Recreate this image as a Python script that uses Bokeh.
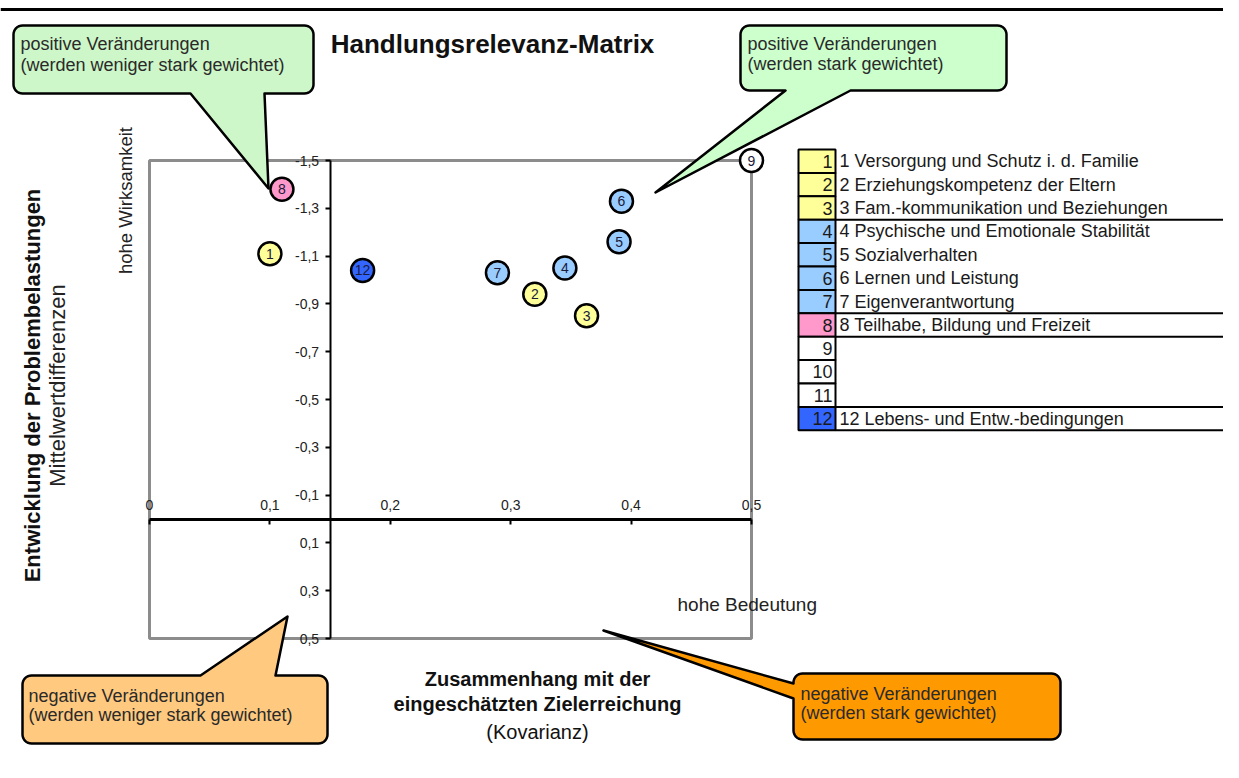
import math
from bokeh.plotting import figure
from bokeh.models import Range1d, LinearAxis, FixedTicker, Label, ColumnDataSource
from bokeh.core.properties import value
from bokeh.embed import file_html
from bokeh.resources import INLINE

# ---------------- data ----------------
point_ids = ["1", "2", "3", "4", "5", "6", "7", "8", "9", "12"]
kovarianz = [0.100, 0.320, 0.363, 0.345, 0.390, 0.392, 0.289, 0.110, 0.500, 0.177]
mittelwert_diff = [-1.11, -0.94, -0.85, -1.05, -1.16, -1.33, -1.03, -1.38, -1.50, -1.04]
point_colors = ["#FFFF99", "#FFFF99", "#FFFF99", "#99CCFF", "#99CCFF", "#99CCFF",
                "#99CCFF", "#FF99CC", "#FFFFFF", "#3366FF"]

legend_numbers = ["1", "2", "3", "4", "5", "6", "7", "8", "9", "10", "11", "12"]
legend_labels = [
    "1 Versorgung und Schutz i. d. Familie",
    "2 Erziehungskompetenz der Eltern",
    "3 Fam.-kommunikation und Beziehungen",
    "4 Psychische und Emotionale Stabilität",
    "5 Sozialverhalten",
    "6 Lernen und Leistung",
    "7 Eigenverantwortung",
    "8 Teilhabe, Bildung und Freizeit",
    "",
    "",
    "",
    "12 Lebens- und Entw.-bedingungen",
]
legend_colors = ["#FFFF99", "#FFFF99", "#FFFF99", "#99CCFF", "#99CCFF", "#99CCFF",
                 "#99CCFF", "#FF99CC", "#FFFFFF", "#FFFFFF", "#FFFFFF", "#3366FF"]
legend_group_ends = [3, 7, 8, 11, 12]

x_ticks = [0.0, 0.1, 0.2, 0.3, 0.4, 0.5]
x_tick_labels = ["0", "0,1", "0,2", "0,3", "0,4", "0,5"]
y_ticks = [-1.5, -1.3, -1.1, -0.9, -0.7, -0.5, -0.3, -0.1, 0.1, 0.3, 0.5]
y_tick_labels = ["-1,5", "-1,3", "-1,1", "-0,9", "-0,7", "-0,5", "-0,3", "-0,1",
                 "0,1", "0,3", "0,5"]
x_bounds = (0.0, 0.5)
y_bounds = (-1.5, 0.5)
y_axis_crossing = 0.15

title_text = "Handlungsrelevanz-Matrix"

# ---------------- layout helpers (picture pixels -> data) ----------------
PX0, PPX = 149.0, 1204.0
PY0, PPY = 518.5, 239.0


def X(px):
    return (px - PX0) / PPX


def Y(py):
    return (py - PY0) / PPY


FONT = "Liberation Sans"
W, H = 1223, 762

p = figure(width=W, height=H,
           x_range=Range1d(X(0), X(W)), y_range=Range1d(Y(H), Y(0)),
           x_axis_type=None, y_axis_type=None,
           toolbar_location=None, output_backend="svg",
           min_border=0, outline_line_color=None)
p.title.visible = False
p.background_fill_color = "white"
p.border_fill_color = "white"

# header line
p.line([X(0), X(W)], [Y(9), Y(9)], line_color="black", line_width=3)

# plot frame
p.quad(left=[x_bounds[0]], right=[x_bounds[1]], top=[y_bounds[0]], bottom=[y_bounds[1]],
       fill_color=None, line_color="#8C8C8C", line_width=3)

# axes crossing inside the frame
xaxis = LinearAxis(fixed_location=0.0, bounds=x_bounds,
                   ticker=FixedTicker(ticks=x_ticks),
                   major_label_overrides=dict(zip(x_ticks, x_tick_labels)))
xaxis.axis_line_width = 3
xaxis.axis_line_color = "black"
xaxis.major_tick_in = 5
xaxis.major_tick_out = 0
xaxis.major_tick_line_width = 2
xaxis.minor_tick_line_color = None
xaxis.major_label_standoff = 9
xaxis.major_label_text_font = FONT
xaxis.major_label_text_font_size = "14px"
xaxis.major_label_text_color = "#222222"
p.add_layout(xaxis, "above")

yaxis = LinearAxis(fixed_location=y_axis_crossing, bounds=y_bounds,
                   ticker=FixedTicker(ticks=y_ticks),
                   major_label_overrides=dict(zip(y_ticks, y_tick_labels)))
yaxis.axis_line_width = 2
yaxis.axis_line_color = "black"
yaxis.major_tick_in = 0
yaxis.major_tick_out = 5
yaxis.major_tick_line_width = 2
yaxis.minor_tick_line_color = None
yaxis.major_label_standoff = 6
yaxis.major_label_text_font = FONT
yaxis.major_label_text_font_size = "14px"
yaxis.major_label_text_color = "#222222"
yaxis.major_label_orientation = "horizontal"
p.add_layout(yaxis, "left")


# ---------------- callouts ----------------
def callout_poly(x0, y0, x1, y1, r, edge, a, b, tip):
    pts = []

    def arc(cx, cy, start, end, n=8):
        for k in range(n + 1):
            t = math.radians(start + (end - start) * k / n)
            pts.append((cx + r * math.cos(t), cy + r * math.sin(t)))

    arc(x0 + r, y0 + r, 180, 270)
    if edge == "top":
        pts.extend([(a, y0), tip, (b, y0)])
    arc(x1 - r, y0 + r, 270, 360)
    if edge == "right":
        pts.extend([(x1, a), tip, (x1, b)])
    arc(x1 - r, y1 - r, 0, 90)
    if edge == "bottom":
        pts.extend([(b, y1), tip, (a, y1)])
    arc(x0 + r, y1 - r, 90, 180)
    if edge == "left":
        pts.extend([(x0, b), tip, (x0, a)])
    return [X(q[0]) for q in pts], [Y(q[1]) for q in pts]


callouts = [
    dict(box=(13, 25, 313, 93), edge="bottom", a=190, b=264, tip=(268, 188),
         fill="#CDF7C8", text_x=20, text_y=(43, 64),
         lines=("positive Veränderungen", "(werden weniger stark gewichtet)")),
    dict(box=(740, 25, 1006, 90), edge="bottom", a=785, b=850, tip=(655, 192),
         fill="#CCFFCC", text_x=747, text_y=(43, 63),
         lines=("positive Veränderungen", "(werden stark gewichtet)")),
    dict(box=(22, 675, 327, 743), edge="top", a=200, b=275, tip=(287, 616),
         fill="#FFC97F", text_x=28, text_y=(695, 714),
         lines=("negative Veränderungen", "(werden weniger stark gewichtet)")),
    dict(box=(793, 673, 1060, 739), edge="left", a=683, b=698, tip=(603, 630),
         fill="#FF9900", text_x=800, text_y=(693, 712),
         lines=("negative Veränderungen", "(werden stark gewichtet)")),
]
for c in callouts:
    xs, ys = callout_poly(*c["box"], 9, c["edge"], c["a"], c["b"], c["tip"])
    p.patch(xs, ys, fill_color=c["fill"], line_color="black", line_width=2.5,
            line_join="round")
    for ty, t in zip(c["text_y"], c["lines"]):
        p.add_layout(Label(x=X(c["text_x"]), y=Y(ty), text=t, text_font=FONT,
                           text_font_size="18px", text_color="#2a2a2a",
                           text_align="left", text_baseline="middle"))

# ---------------- points ----------------
src = ColumnDataSource(dict(x=kovarianz, y=mittelwert_diff, id=point_ids, color=point_colors))
p.scatter("x", "y", source=src, size=23, fill_color="color", line_color="black",
          line_width=2.5)
p.text("x", "y", text="id", source=src, text_font=value(FONT), text_font_size="14px",
       text_align="center", text_baseline="middle", text_color="#1a1a3a")

# ---------------- legend table ----------------
LX0, LX1, LTOP, RH, LRIGHT = 798, 835, 149, 23.4, W
n = len(legend_numbers)
tops = [Y(LTOP + i * RH) for i in range(n)]
bots = [Y(LTOP + (i + 1) * RH) for i in range(n)]
mids = [Y(LTOP + (i + 0.5) * RH) for i in range(n)]
leg = ColumnDataSource(dict(top=tops, bottom=bots, mid=mids, num=legend_numbers,
                            label=legend_labels, color=legend_colors,
                            left=[X(LX0)] * n, right=[X(LX1)] * n,
                            numx=[X(LX1 - 3)] * n, labx=[X(LX1 + 4)] * n))
p.quad(left="left", right="right", top="top", bottom="bottom", source=leg,
       fill_color="color", line_color="black", line_width=2)
p.text("numx", "mid", text="num", source=leg, text_font=value(FONT), text_font_size="18px",
       text_align="right", text_baseline="middle", text_color="#1a1a1a")
p.text("labx", "mid", text="label", source=leg, text_font=value(FONT), text_font_size="18px",
       text_align="left", text_baseline="middle", text_color="#1a1a1a")
sep_y = [Y(LTOP + g * RH) for g in legend_group_ends]
p.segment(x0=[X(LX1)] * len(sep_y), y0=sep_y, x1=[X(LRIGHT)] * len(sep_y), y1=sep_y,
          line_color="black", line_width=2)

# ---------------- texts ----------------
p.add_layout(Label(x=X(492), y=Y(43), text=title_text, text_font=FONT,
                   text_font_size="26px", text_font_style="bold", text_color="#111111",
                   text_align="center", text_baseline="middle"))
p.add_layout(Label(x=X(32), y=Y(385), text="Entwicklung der Problembelastungen",
                   text_font=FONT, text_font_size="22px", text_font_style="bold",
                   text_color="#111111", angle=math.pi / 2,
                   text_align="center", text_baseline="middle"))
p.add_layout(Label(x=X(57), y=Y(385), text="Mittelwertdifferenzen",
                   text_font=FONT, text_font_size="22px", text_color="#222222",
                   angle=math.pi / 2, text_align="center", text_baseline="middle"))
p.add_layout(Label(x=X(125), y=Y(200), text="hohe Wirksamkeit",
                   text_font=FONT, text_font_size="18.5px", text_color="#222222",
                   angle=math.pi / 2, text_align="center", text_baseline="middle"))
p.add_layout(Label(x=X(677), y=Y(604), text="hohe Bedeutung",
                   text_font=FONT, text_font_size="19px", text_color="#222222",
                   text_align="left", text_baseline="middle"))
for ty, t, style in [(678, "Zusammenhang mit der", "bold"),
                     (703, "eingeschätzten Zielerreichung", "bold"),
                     (731, "(Kovarianz)", "normal")]:
    p.add_layout(Label(x=X(537), y=Y(ty), text=t, text_font=FONT, text_font_size="20px",
                       text_font_style=style, text_color="#111111",
                       text_align="center", text_baseline="middle"))

open("out.html", "w").write(file_html(p, INLINE))
